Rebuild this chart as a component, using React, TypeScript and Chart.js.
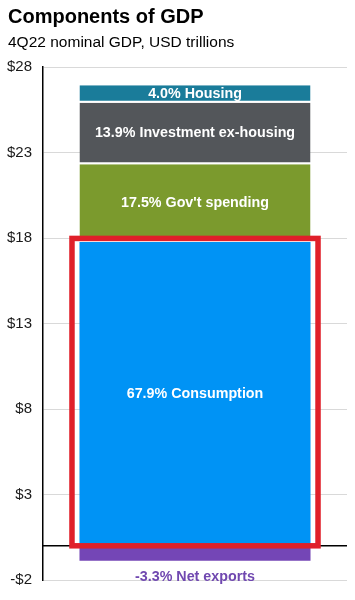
import React, { useEffect, useRef } from "react";
import { Chart, registerables } from "chart.js";

Chart.register(...registerables);

const categories = ["4Q22"];
const seriesNames = ["Consumption", "Gov't spending", "Investment ex-housing", "Housing", "Net exports"];
const seriesShares = [67.9, 17.5, 13.9, 4.0, -3.3];
const seriesValues = [17.77, 4.54, 3.6, 1.03, -0.87];
const tickValues = [-2, 3, 8, 13, 18, 23, 28];
const highlightedSeries = "Consumption";

const seriesColors = ["#0093F5", "#7B9A2D", "#53565A", "#1A7C9A", "#7446B6"];
const FONT = "'Liberation Sans', Arial, Helvetica, sans-serif";

const overlayPlugin = {
  id: "overlay",
  beforeDatasetsDraw(chart: any) {
    const { ctx, chartArea, scales } = chart;
    const y0 = scales.y.getPixelForValue(0);
    ctx.save();
    ctx.strokeStyle = "#000";
    ctx.lineWidth = 1.5;
    ctx.beginPath();
    ctx.moveTo(chartArea.left, y0);
    ctx.lineTo(chartArea.right, y0);
    ctx.stroke();
    ctx.restore();
  },
  afterDatasetsDraw(chart: any) {
    const { ctx } = chart;
    ctx.save();
    ctx.font = `bold 14.3px ${FONT}`;
    ctx.textAlign = "center";
    ctx.textBaseline = "middle";
    chart.data.datasets.forEach((ds: any, i: number) => {
      const el = chart.getDatasetMeta(i).data[0];
      if (!el) return;
      const share = seriesShares[i];
      const label = `${share.toFixed(1)}% ${seriesNames[i]}`;
      if (seriesValues[i] >= 0) {
        ctx.fillStyle = "#ffffff";
        ctx.fillText(label, el.x, (el.y + el.base) / 2);
      } else {
        ctx.fillStyle = "#7048B0";
        ctx.fillText(label, el.x, Math.max(el.y, el.base) + 16);
      }
    });
    const hi = seriesNames.indexOf(highlightedSeries);
    const el = chart.getDatasetMeta(hi).data[0];
    if (el) {
      const padX = 7.5;
      const left = el.x - el.width / 2 - padX;
      const right = el.x + el.width / 2 + padX;
      const top = el.y - 3.5;
      const bottom = el.base;
      ctx.strokeStyle = "#E0202A";
      ctx.lineWidth = 5.5;
      ctx.strokeRect(left, top, right - left, bottom - top);
    }
    ctx.restore();
  },
};

export default function App() {
  const canvasRef = useRef<HTMLCanvasElement | null>(null);

  useEffect(() => {
    const canvas = canvasRef.current;
    if (!canvas) return;
    const datasets = seriesNames.map((name, i) => ({
      label: name,
      data: [seriesValues[i]],
      backgroundColor: seriesColors[i],
      borderColor: "#ffffff",
      borderWidth: i === 0 || seriesValues[i] < 0 ? 0 : { top: 0, right: 0, bottom: 2, left: 0 },
      borderSkipped: false as any,
      categoryPercentage: 1,
      barPercentage: 0.76,
    }));
    const chart = new Chart(canvas, {
      type: "bar",
      data: { labels: categories, datasets },
      options: {
        responsive: false,
        animation: false,
        layout: { padding: { left: 0, right: 8, top: 67, bottom: 19 } },
        plugins: {
          legend: { display: false },
          tooltip: { enabled: false },
        },
        scales: {
          x: { display: false, stacked: true },
          y: {
            stacked: true,
            min: -2,
            max: 28,
            afterBuildTicks: (scale: any) => {
              scale.ticks = tickValues.map((v) => ({ value: v }));
            },
            afterFit: (scale: any) => {
              scale.width = 43;
            },
            grid: { color: "#D9D9D9", lineWidth: 1, drawTicks: false },
            border: { display: true, color: "#000", width: 1.5 },
            ticks: {
              padding: 11,
              color: "#1a1a1a",
              font: { family: FONT, size: 15 },
              callback: (v: any) => (Number(v) < 0 ? `-$${-Number(v)}` : `$${v}`),
            },
          },
        },
      },
      plugins: [overlayPlugin],
    });
    return () => chart.destroy();
  }, []);

  return (
    <div style={{ position: "absolute", left: 0, top: 0, width: 355, height: 600, background: "#fff", fontFamily: FONT }}>
      <canvas ref={canvasRef} width={355} height={600} style={{ position: "absolute", left: 0, top: 0 }} />
      <div style={{ position: "absolute", left: 8, top: 6, fontSize: 20, lineHeight: "20px", fontWeight: "bold", color: "#000", whiteSpace: "nowrap" }}>
        Components of GDP
      </div>
      <div style={{ position: "absolute", left: 8, top: 34, fontSize: 15.5, lineHeight: "15.5px", color: "#000", whiteSpace: "nowrap" }}>
        4Q22 nominal GDP, USD trillions
      </div>
    </div>
  );
}
